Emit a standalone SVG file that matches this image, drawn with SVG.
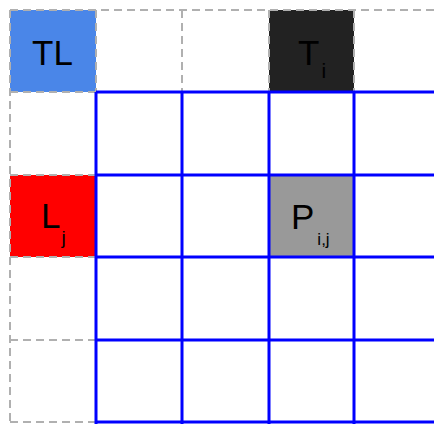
<svg xmlns="http://www.w3.org/2000/svg" width="434" height="424" viewBox="0 0 434 424">
<style>
.dash{stroke:#b0b0b0;stroke-width:2;stroke-dasharray:8 5;fill:none}
.blue{stroke:#0000ff;stroke-width:3;fill:none}
.lbl{font-family:"Liberation Sans",Arial,sans-serif;font-size:35px;fill:#000}
</style>
<rect width="434" height="424" fill="#ffffff"/>
<g id="TL"><rect x="10" y="10" width="86" height="82" fill="#4a86e8"/><text class="lbl" x="32" y="65">TL</text></g>
<g id="Ti"><rect x="269" y="10" width="85" height="82" fill="#222222"/><text class="lbl" x="298" y="65">T<tspan font-size="21" dx="2" dy="13">i</tspan></text></g>
<g id="Lj"><rect x="10" y="175" width="86" height="82" fill="#ff0000"/><text class="lbl" x="41" y="228">L<tspan font-size="19" dx="1" dy="16">j</tspan></text></g>
<g id="Pij"><rect x="269" y="175" width="85" height="82" fill="#999999"/><text class="lbl" x="291" y="229">P<tspan font-size="17" dx="3" dy="16">i,j</tspan></text></g>
<g id="dashed-grid" class="dash">
<path d="M10 10H434M10 92H96M10 175H96M10 257H96M10 340H96M10 422H96"/>
<path d="M10 10V422M96 10V92M182 10V92M269 10V92M354 10V92"/>
</g>
<g id="blue-grid" class="blue">
<path d="M96 92V424M182 92V424M269 92V424M354 92V424"/>
<path d="M96 92H434M96 175H434M96 257H434M96 340H434M96 422H434"/>
</g>
</svg>
